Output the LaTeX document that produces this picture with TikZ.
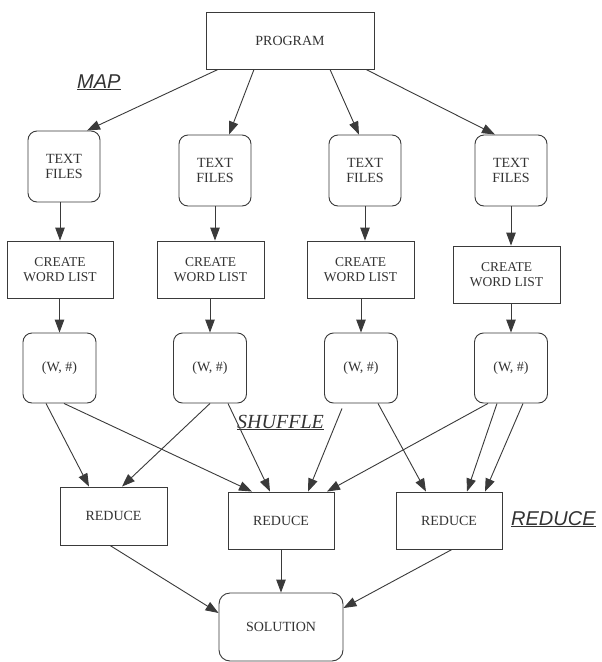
\documentclass[tikz,border=0pt]{standalone}
\usepackage{fontspec}
\setmainfont{Liberation Serif}
\newfontfamily\lsans{Liberation Sans}
\usetikzlibrary{arrows.meta,calc}
\definecolor{ln}{HTML}{3A3A3A}
\definecolor{tx}{HTML}{333333}
\begin{document}
\begin{tikzpicture}[x=1pt,y=-1pt,
  box/.style={draw=ln, line width=0.9pt, inner sep=0pt, align=center, text=tx,
    font=\fontsize{14}{15.7}\selectfont},
  rbox/.style={box, rounded corners=9pt},
  cwl/.style={box, font=\fontsize{13.5}{15}\selectfont, minimum width=107pt, minimum height=57pt},
  tfb/.style={rbox, minimum width=72pt, minimum height=71pt},
  wb/.style={rbox, minimum width=73pt, minimum height=70pt},
  rb/.style={box, minimum width=106pt, minimum height=57pt},
  arr/.style={draw=ln, line width=0.9pt, -{Triangle[length=13pt,width=9.5pt]}},
  lab/.style={text=tx, inner sep=0pt, anchor=base west}]
\path[use as bounding box] (0,0) rectangle (602,662);
\fill[white] (0,0) rectangle (602,662);

% nodes
\node[box, minimum width=168pt, minimum height=57pt] (prog) at (290,40.5) {PROGRAM};

\node[tfb] (tf1) at (64,166.5) {TEXT\\FILES};
\node[tfb] (tf2) at (215,170.5) {TEXT\\FILES};
\node[tfb] (tf3) at (365,170.5) {TEXT\\FILES};
\node[tfb] (tf4) at (511,170.5) {TEXT\\FILES};

\node[cwl, minimum width=106pt] (cwl1) at (60,269.5) {CREATE\\WORD LIST};
\node[cwl] (cwl2) at (210.5,269.5) {CREATE\\WORD LIST};
\node[cwl] (cwl3) at (360.5,269.5) {CREATE\\WORD LIST};
\node[cwl] (cwl4) at (506.5,274.5) {CREATE\\WORD LIST};

\node[wb] (w1) at (59.5,368) {(W, \#)};
\node[wb] (w2) at (210,368) {(W, \#)};
\node[wb] (w3) at (361,368) {(W, \#)};
\node[wb] (w4) at (511,368) {(W, \#)};

\node[rb, minimum width=107pt, minimum height=58pt] (r1) at (113.5,516) {REDUCE};
\node[rb] (r2) at (281,520.5) {REDUCE};
\node[rb] (r3) at (449,520.5) {REDUCE};

\node[box, rounded corners=11pt, minimum width=124pt, minimum height=68pt] (sol) at (281,627) {SOLUTION};

% labels
\node[lab, font=\lsans\itshape\fontsize{20}{20}\selectfont] (map) at (77,88) {\underline{MAP}};
\node[lab, font=\itshape\fontsize{20}{20}\selectfont] (shuf) at (237,428) {\underline{SHUFFLE}};
\node[lab, font=\lsans\itshape\fontsize{20}{20}\selectfont] (redl) at (511,525) {\underline{REDUCE}};

% program to text files
\draw[arr] ([xshift=-72pt]prog.south) -- ([xshift=23pt]tf1.north);
\draw[arr] ([xshift=-36pt]prog.south) -- ([xshift=14pt]tf2.north);
\draw[arr] ([xshift=40pt]prog.south) -- ([xshift=-6pt]tf3.north);
\draw[arr] ([xshift=76pt]prog.south) -- ([xshift=-16pt]tf4.north);

% text files to create word list
\draw[arr] (cwl1.north |- tf1.south) -- (cwl1.north);
\draw[arr] (tf2.south) -- (tf2.south |- cwl2.north);
\draw[arr] (tf3.south) -- (tf3.south |- cwl3.north);
\draw[arr] (tf4.south) -- (tf4.south |- cwl4.north);

% create word list to (W,#)
\draw[arr] (w1.north |- cwl1.south) -- (w1.north);
\draw[arr] (w2.north |- cwl2.south) -- (w2.north);
\draw[arr] (w3.north |- cwl3.south) -- (w3.north);
\draw[arr] (w4.north |- cwl4.south) -- (w4.north);

% shuffle
\draw[arr] ([xshift=-13.5pt]w1.south) -- ([xshift=-24.5pt]r1.north);
\draw[arr] ([xshift=4.5pt]w1.south) -- ([xshift=-29pt]r2.north);
\draw[arr] (w2.south) -- ([xshift=8.5pt]r1.north);
\draw[arr] ([xshift=18pt]w2.south) -- ([xshift=-11pt]r2.north);
\draw[arr] ([xshift=-19pt,yshift=-5pt]w3.south) -- ([xshift=27pt]r2.north);
\draw[arr] ([xshift=17pt]w3.south) -- ([xshift=-23pt]r3.north);
\draw[arr] ([xshift=-23pt]w4.south) -- ([xshift=46pt]r2.north);
\draw[arr] ([xshift=-14pt]w4.south) -- ([xshift=18pt]r3.north);
\draw[arr] ([xshift=12pt]w4.south) -- ([xshift=36pt]r3.north);

% reduce to solution
\draw[arr] ([xshift=-3.5pt]r1.south) -- ([yshift=14pt]sol.west);
\draw[arr] (r2.south) -- (sol.north);
\draw[arr] ([xshift=3pt]r3.south) -- ([yshift=19pt]sol.east);
\end{tikzpicture}
\end{document}
